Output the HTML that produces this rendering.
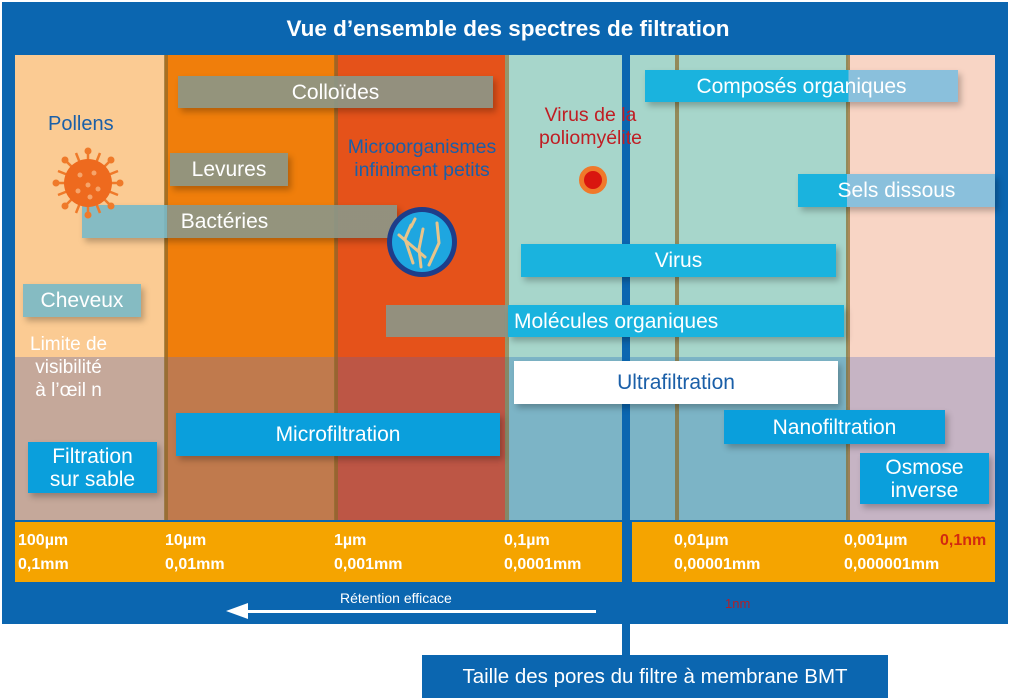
<!DOCTYPE html>
<html><head><meta charset="utf-8"><style>
*{margin:0;padding:0;box-sizing:border-box}
body{width:1010px;height:700px;background:#fff;position:relative;overflow:hidden;font-family:"Liberation Sans",sans-serif}
.a{position:absolute}
.lab{position:absolute;color:#fff;font-size:21px;display:flex;align-items:center;justify-content:center;text-align:center;line-height:23px;box-shadow:3px 4px 6px rgba(0,0,0,.25)}
.g{background:rgba(140,150,135,.92)}
.t{background:rgba(120,185,200,.9)}
.b{background:#1ab3de}
.m{background:#0a9fdc}
.sc{position:absolute;color:#fff;font-weight:bold;font-size:16px;font-family:"Liberation Sans Narrow","Liberation Sans",sans-serif;line-height:24px}
</style></head><body>
<div class="a" style="left:2px;top:2px;width:1006px;height:622px;background:#0b66b0"></div>
<div class="a" style="left:0;top:16px;width:1016px;text-align:center;color:#fff;font-weight:bold;font-size:22.5px">Vue d’ensemble des spectres de filtration</div>
<!-- columns top -->
<div class="a" style="left:15px;top:55px;width:150px;height:302px;background:#fbcb93"></div>
<div class="a" style="left:165px;top:55px;width:170px;height:302px;background:#f07e0b"></div>
<div class="a" style="left:335px;top:55px;width:170px;height:302px;background:#e5521a"></div>
<div class="a" style="left:505px;top:55px;width:343px;height:302px;background:#a7d6cb"></div>
<div class="a" style="left:848px;top:55px;width:147px;height:302px;background:#f8d5c5"></div>
<!-- lower -->
<div class="a" style="left:15px;top:357px;width:150px;height:163px;background:#c5a89a"></div>
<div class="a" style="left:165px;top:357px;width:170px;height:163px;background:#c07a4d"></div>
<div class="a" style="left:335px;top:357px;width:170px;height:163px;background:#bd5645"></div>
<div class="a" style="left:505px;top:357px;width:343px;height:163px;background:#7cb4c6"></div>
<div class="a" style="left:848px;top:357px;width:147px;height:163px;background:#c6b4c4"></div>
<!-- dividers -->
<div class="a" style="left:164px;top:55px;width:4px;height:465px;background:#8a6a2a;opacity:.7"></div>
<div class="a" style="left:334px;top:55px;width:4px;height:465px;background:#8a6a2a;opacity:.7"></div>
<div class="a" style="left:505px;top:55px;width:4px;height:465px;background:#8a6a2a;opacity:.6"></div>
<div class="a" style="left:675px;top:55px;width:4px;height:465px;background:#8a6a2a;opacity:.7"></div>
<div class="a" style="left:846px;top:55px;width:4px;height:465px;background:#8a6a2a;opacity:.7"></div>
<!-- vertical line -->
<div class="a" style="left:622px;top:50px;width:8px;height:606px;background:#0b66b0"></div>
<!-- scale bar -->
<div class="a" style="left:15px;top:522px;width:607px;height:60px;background:#f5a400"></div>
<div class="a" style="left:632px;top:522px;width:363px;height:60px;background:#f5a400"></div>
<div class="sc" style="left:18px;top:529px">100µm<br>0,1mm</div>
<div class="sc" style="left:165px;top:529px">10µm<br>0,01mm</div>
<div class="sc" style="left:334px;top:529px">1µm<br>0,001mm</div>
<div class="sc" style="left:504px;top:529px">0,1µm<br>0,0001mm</div>
<div class="sc" style="left:674px;top:529px">0,01µm<br>0,00001mm</div>
<div class="sc" style="left:844px;top:529px">0,001µm<br>0,000001mm</div>
<div class="sc" style="left:940px;top:529px;color:#d22a10">0,1nm</div>
<!-- arrow -->
<div class="a" style="left:340px;top:590px;color:#fff;font-size:14px">Rétention efficace</div>
<div class="a" style="left:240px;top:610px;width:356px;height:3px;background:#fff"></div>
<div class="a" style="left:226px;top:603px;width:0;height:0;border-top:8px solid transparent;border-bottom:8px solid transparent;border-right:22px solid #fff"></div>
<div class="a" style="left:725px;top:596px;color:#b0202a;font-size:13px">1nm</div>
<!-- labels -->
<div class="lab g" style="left:178px;top:76px;width:315px;height:32px">Colloïdes</div>
<div class="a" style="left:48px;top:113px;color:#1a5fa8;font-size:20px">Pollens</div>
<div class="lab g" style="left:170px;top:153px;width:118px;height:33px">Levures</div>
<div class="lab t" style="left:82px;top:205px;width:315px;height:33px;background:linear-gradient(90deg,rgba(120,185,200,.9) 0 27%,rgba(140,150,135,.92) 27%)"><span style="margin-left:-30px">Bactéries</span></div>
<div class="a" style="left:332px;top:136px;width:180px;text-align:center;color:#1a5fa8;font-size:19.5px;line-height:23px">Microorganismes<br>infiniment petits</div>
<div class="lab t" style="left:23px;top:284px;width:118px;height:33px">Cheveux</div>
<div class="a" style="left:30px;top:333px;width:100px;color:#fff;font-size:19px;line-height:23px">Limite de<br>&nbsp;visibilité<br>&nbsp;à l’œil n</div>
<div class="lab m" style="left:28px;top:442px;width:129px;height:51px">Filtration<br>sur sable</div>
<div class="lab m" style="left:176px;top:413px;width:324px;height:43px">Microfiltration</div>
<div class="a" style="left:524px;top:104px;width:133px;text-align:center;color:#c01d23;font-size:19.5px;line-height:23px">Virus de la<br>poliomyélite</div>
<div class="a" style="left:579px;top:166px;width:28px;height:28px;border-radius:50%;background:#d9160f;border:5px solid #f0792a"></div>
<div class="lab b" style="left:645px;top:70px;width:313px;height:32px;background:linear-gradient(90deg,#1ab3de 0 65%,#8ac0dc 65%)">Composés organiques</div>
<div class="lab b" style="left:798px;top:174px;width:197px;height:33px;background:linear-gradient(90deg,#1ab3de 0 25%,#8ac0dc 25%)">Sels dissous</div>
<div class="lab b" style="left:521px;top:244px;width:315px;height:33px">Virus</div>
<div class="lab g" style="left:386px;top:305px;width:125px;height:32px;box-shadow:none"></div>
<div class="lab b" style="left:508px;top:305px;width:336px;height:32px;justify-content:flex-start;padding-left:6px">Molécules organiques</div>
<div class="lab" style="left:514px;top:361px;width:324px;height:43px;background:#fff;color:#1a5fa8">Ultrafiltration</div>
<div class="lab m" style="left:724px;top:410px;width:221px;height:34px">Nanofiltration</div>
<div class="lab m" style="left:860px;top:453px;width:129px;height:51px">Osmose<br>inverse</div>
<!-- pollen -->
<svg class="a" style="left:50px;top:145px" width="76" height="76" viewBox="0 0 76 76">
<g stroke="#ef7a2a" stroke-width="2.5" fill="#ef7a2a">
<line x1="38" y1="6" x2="38" y2="70"/><line x1="6" y1="38" x2="70" y2="38"/>
<line x1="15" y1="15" x2="61" y2="61"/><line x1="61" y1="15" x2="15" y2="61"/>
<line x1="26" y1="8" x2="50" y2="68"/><line x1="50" y1="8" x2="26" y2="68"/>
<line x1="8" y1="26" x2="68" y2="50"/><line x1="8" y1="50" x2="68" y2="26"/>
</g>
<g fill="#ef7a2a"><circle cx="38" cy="6" r="3.5"/><circle cx="38" cy="70" r="3.5"/><circle cx="6" cy="38" r="3.5"/><circle cx="70" cy="38" r="3.5"/><circle cx="15" cy="15" r="3.5"/><circle cx="61" cy="61" r="3.5"/><circle cx="61" cy="15" r="3.5"/><circle cx="15" cy="61" r="3.5"/></g>
<circle cx="38" cy="38" r="24" fill="#ee6a1e"/>
<g fill="#f6a46a"><circle cx="30" cy="30" r="2.5"/><circle cx="44" cy="28" r="2.5"/><circle cx="38" cy="40" r="2.5"/><circle cx="28" cy="46" r="2.5"/><circle cx="48" cy="44" r="2.5"/><circle cx="40" cy="52" r="2.5"/></g>
</svg>
<!-- microorganism -->
<svg class="a" style="left:385px;top:205px" width="74" height="74" viewBox="0 0 74 74">
<circle cx="37" cy="37" r="35" fill="#1e3d8a"/><circle cx="37" cy="37" r="30" fill="#1ea6e0"/>
<g stroke="#e8c48a" stroke-width="3" fill="none" stroke-linecap="round">
<path d="M14 30 L40 52"/><path d="M26 20 L20 34 L28 58"/><path d="M38 24 L34 44 L36 62"/><path d="M52 18 L54 38 L44 60"/><path d="M30 14 L26 22"/>
</g></svg>
<div class="a" style="left:422px;top:655px;width:466px;height:43px;background:#0b66b0;color:#fff;font-size:20.5px;display:flex;align-items:center;justify-content:center">Taille des pores du filtre à membrane BMT</div>
</body></html>
